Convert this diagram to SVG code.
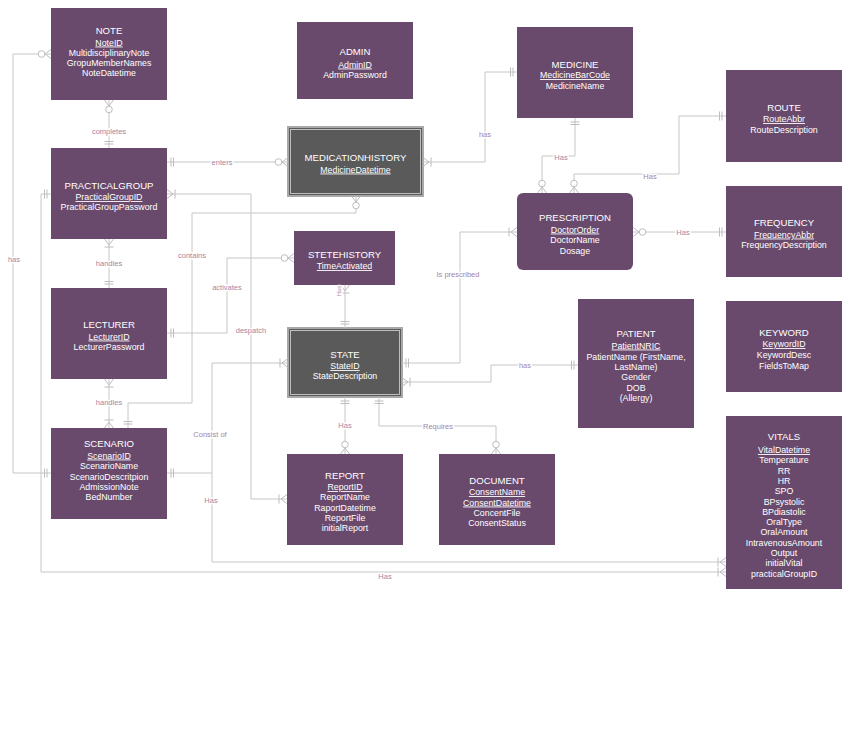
<svg xmlns="http://www.w3.org/2000/svg" width="850" height="742" viewBox="0 0 850 742">
<style>
.bg{fill:#ffffff}
.ent{fill:#6a4a6c}
.dark{fill:#5a5a5a;stroke:#a8a8a8;stroke-width:2}
.darkin{fill:none;stroke:#d8d8d8;stroke-width:0.8}
text{font-family:"Liberation Sans",Arial,sans-serif;fill:#ffffff;text-anchor:middle}
.t{font-size:9.6px}
.a{font-size:8.8px}
.k{text-decoration:underline}
.c{fill:none;stroke:#c6c6c6;stroke-width:1}
.l{font-size:7.5px;fill:#a585a5;stroke:#ffffff;stroke-width:3;paint-order:stroke;stroke-linejoin:round}
.m{fill:none;stroke:#bdbdbd;stroke-width:1}
</style>
<defs>
<marker id="one" viewBox="-15 -10 20 20" markerWidth="20" markerHeight="20" refX="0" refY="0" orient="auto-start-reverse" markerUnits="userSpaceOnUse">
<path class="m" d="M-4,-4.5V4.5M-6.5,-4.5V4.5"/>
</marker>
<marker id="zm" viewBox="-15 -10 20 20" markerWidth="20" markerHeight="20" refX="0" refY="0" orient="auto-start-reverse" markerUnits="userSpaceOnUse">
<path class="m" d="M0,-4.5L-6,0L0,4.5"/>
<circle cx="-9.5" cy="0" r="3.3" fill="#ffffff" stroke="#bdbdbd" stroke-width="1"/>
</marker>
<marker id="om" viewBox="-15 -10 20 20" markerWidth="20" markerHeight="20" refX="0" refY="0" orient="auto-start-reverse" markerUnits="userSpaceOnUse">
<path class="m" d="M0,-4.5L-6,0L0,4.5M-8,-4.5V4.5"/>
</marker>
</defs>
<rect class="bg" x="0" y="0" width="850" height="742"/>

<g id="NOTE"><rect class="ent" x="51" y="8" width="116" height="92"/>
<text class="t" x="109" y="33.5">NOTE</text>
<text class="a"><tspan class="k" x="109" y="45.5">NoteID</tspan><tspan x="109" y="55.5">MultidisciplinaryNote</tspan><tspan x="109" y="65.5">GropuMemberNames</tspan><tspan x="109" y="75.5">NoteDatetime</tspan></text></g>

<g id="ADMIN"><rect class="ent" x="297" y="22" width="116" height="77"/>
<text class="t" x="355" y="55">ADMIN</text>
<text class="a"><tspan class="k" x="355" y="67.5">AdminID</tspan><tspan x="355" y="77.5">AdminPassword</tspan></text></g>

<g id="MEDICINE"><rect class="ent" x="517" y="27" width="116" height="91"/>
<text class="t" x="575" y="67.5">MEDICINE</text>
<text class="a"><tspan class="k" x="575" y="78">MedicineBarCode</tspan><tspan x="575" y="88.5">MedicineName</tspan></text></g>

<g id="MEDICATIONHISTORY"><rect class="dark" x="288" y="127" width="135" height="69"/><rect class="darkin" x="290.5" y="129.5" width="130" height="64"/>
<text class="t" x="355.5" y="161">MEDICATIONHISTORY</text>
<text class="a"><tspan class="k" x="355.5" y="172.5">MedicineDatetime</tspan></text></g>

<g id="ROUTE"><rect class="ent" x="726" y="70" width="116" height="92"/>
<text class="t" x="784" y="111">ROUTE</text>
<text class="a"><tspan class="k" x="784" y="122">RouteAbbr</tspan><tspan x="784" y="132.5">RouteDescription</tspan></text></g>

<g id="PRACTICALGROUP"><rect class="ent" x="51" y="148" width="116" height="91"/>
<text class="t" x="109" y="188.5">PRACTICALGROUP</text>
<text class="a"><tspan class="k" x="109" y="200">PracticalGroupID</tspan><tspan x="109" y="210">PracticalGroupPassword</tspan></text></g>

<g id="PRESCRIPTION"><rect class="ent" x="517" y="193" width="116" height="77" rx="6" ry="6"/>
<text class="t" x="575" y="221">PRESCRIPTION</text>
<text class="a"><tspan class="k" x="575" y="232.5">DoctorOrder</tspan><tspan x="575" y="243">DoctorName</tspan><tspan x="575" y="253.5">Dosage</tspan></text></g>

<g id="FREQUENCY"><rect class="ent" x="726" y="186" width="116" height="91"/>
<text class="t" x="784" y="226">FREQUENCY</text>
<text class="a"><tspan class="k" x="784" y="237.5">FrequencyAbbr</tspan><tspan x="784" y="247.5">FrequencyDescription</tspan></text></g>

<g id="STETEHISTORY"><rect class="ent" x="294" y="231" width="101" height="54"/>
<text class="t" x="344.5" y="257.5">STETEHISTORY</text>
<text class="a"><tspan class="k" x="344.5" y="269">TimeActivated</tspan></text></g>

<g id="LECTURER"><rect class="ent" x="51" y="288" width="116" height="91"/>
<text class="t" x="109" y="328">LECTURER</text>
<text class="a"><tspan class="k" x="109" y="339.5">LecturerID</tspan><tspan x="109" y="349.5">LecturerPassword</tspan></text></g>

<g id="STATE"><rect class="dark" x="288" y="328" width="114" height="69"/><rect class="darkin" x="290.5" y="330.5" width="109" height="64"/>
<text class="t" x="345" y="357.5">STATE</text>
<text class="a"><tspan class="k" x="345" y="369">StateID</tspan><tspan x="345" y="379">StateDescription</tspan></text></g>

<g id="PATIENT"><rect class="ent" x="578" y="299" width="116" height="129"/>
<text class="t" x="636" y="337">PATIENT</text>
<text class="a"><tspan class="k" x="636" y="348.5">PatientNRIC</tspan><tspan x="636" y="359.5">PatientName (FirstName,</tspan><tspan x="636" y="369.5">LastName)</tspan><tspan x="636" y="380">Gender</tspan><tspan x="636" y="390.5">DOB</tspan><tspan x="636" y="401">(Allergy)</tspan></text></g>

<g id="KEYWORD"><rect class="ent" x="726" y="301" width="116" height="91"/>
<text class="t" x="784" y="336">KEYWORD</text>
<text class="a"><tspan class="k" x="784" y="347">KeywordID</tspan><tspan x="784" y="358">KeywordDesc</tspan><tspan x="784" y="368.5">FieldsToMap</tspan></text></g>

<g id="SCENARIO"><rect class="ent" x="51" y="428" width="116" height="91"/>
<text class="t" x="109" y="447">SCENARIO</text>
<text class="a"><tspan class="k" x="109" y="458.5">ScenarioID</tspan><tspan x="109" y="469">ScenarioName</tspan><tspan x="109" y="479.5">ScenarioDescritpion</tspan><tspan x="109" y="490">AdmissionNote</tspan><tspan x="109" y="500">BedNumber</tspan></text></g>

<g id="REPORT"><rect class="ent" x="287" y="454" width="116" height="91"/>
<text class="t" x="345" y="478.5">REPORT</text>
<text class="a"><tspan class="k" x="345" y="490">ReportID</tspan><tspan x="345" y="500">ReportName</tspan><tspan x="345" y="510.5">RaportDatetime</tspan><tspan x="345" y="521">ReportFile</tspan><tspan x="345" y="531">initialReport</tspan></text></g>

<g id="DOCUMENT"><rect class="ent" x="439" y="454" width="116" height="91"/>
<text class="t" x="497" y="483.5">DOCUMENT</text>
<text class="a"><tspan class="k" x="497" y="495">ConsentName</tspan><tspan class="k" x="497" y="505.5">ConsentDatetime</tspan><tspan x="497" y="516">ConcentFile</tspan><tspan x="497" y="526">ConsentStatus</tspan></text></g>

<g id="VITALS"><rect class="ent" x="726" y="416" width="116" height="173"/>
<text class="t" x="784" y="440">VITALS</text>
<text class="a"><tspan class="k" x="784" y="453">VitalDatetime</tspan><tspan x="784" y="463.3">Temperature</tspan><tspan x="784" y="473.6">RR</tspan><tspan x="784" y="483.9">HR</tspan><tspan x="784" y="494.2">SPO</tspan><tspan x="784" y="504.5">BPsystolic</tspan><tspan x="784" y="514.8">BPdiastolic</tspan><tspan x="784" y="525.1">OralType</tspan><tspan x="784" y="535.4">OralAmount</tspan><tspan x="784" y="545.7">IntravenousAmount</tspan><tspan x="784" y="556">Output</tspan><tspan x="784" y="566.3">initialVital</tspan><tspan x="784" y="576.6">practicalGroupID</tspan></text></g>

<g id="connectors">
<path class="c" d="M109,100V148" marker-start="url(#zm)" marker-end="url(#one)"/>
<path class="c" d="M51,54H13V473H51" marker-start="url(#zm)" marker-end="url(#one)"/>
<path class="c" d="M167,162H288" marker-start="url(#one)" marker-end="url(#zm)"/>
<path class="c" d="M423,162H485V72H517" marker-start="url(#om)" marker-end="url(#one)"/>
<path class="c" d="M575,118V156H542V193" marker-start="url(#one)" marker-end="url(#zm)"/>
<path class="c" d="M726,116H679V174H574V193" marker-start="url(#one)" marker-end="url(#zm)"/>
<path class="c" d="M633,232H726" marker-start="url(#zm)" marker-end="url(#one)"/>
<path class="c" d="M517,232H460V363H402" marker-start="url(#om)" marker-end="url(#one)"/>
<path class="c" d="M578,365H491V382H402" marker-start="url(#one)" marker-end="url(#om)"/>
<path class="c" d="M345,328V285" marker-start="url(#one)" marker-end="url(#om)"/>
<path class="c" d="M167,333H227V258H294" marker-start="url(#one)" marker-end="url(#zm)"/>
<path class="c" d="M167,194H251V499H287" marker-start="url(#om)" marker-end="url(#om)"/>
<path class="c" d="M356,196V213H192V403H128V428" marker-start="url(#zm)" marker-end="url(#one)"/>
<path class="c" d="M109,379V428" marker-start="url(#om)" marker-end="url(#om)"/>
<path class="c" d="M109,239V288" marker-start="url(#om)" marker-end="url(#one)"/>
<path class="c" d="M167,473H212V363H288" marker-start="url(#one)" marker-end="url(#om)"/>
<path class="c" d="M212,473V562H726" marker-end="url(#om)"/>
<path class="c" d="M51,194H41V572H726" marker-start="url(#one)" marker-end="url(#om)"/>
<path class="c" d="M345,397V454" marker-start="url(#one)" marker-end="url(#zm)"/>
<path class="c" d="M379,397V426H496V454" marker-start="url(#one)" marker-end="url(#zm)"/>
<text class="l" x="109" y="134">completes</text>
<text class="l" x="14" y="262">has</text>
<text class="l" x="222" y="165">enters</text>
<text class="l" x="485" y="137">has</text>
<text class="l" x="561" y="160">Has</text>
<text class="l" x="650" y="179">Has</text>
<text class="l" x="683" y="235">Has</text>
<text class="l" x="458" y="277">Is prescribed</text>
<text class="l" x="525" y="368">has</text>
<text class="l" x="341" y="291" transform="rotate(-90 341 291)" style="font-size:5.5px">Has</text>
<text class="l" x="227" y="290">activates</text>
<text class="l" x="251" y="333">despatch</text>
<text class="l" x="192" y="258">contains</text>
<text class="l" x="109" y="405">handles</text>
<text class="l" x="109" y="266">handles</text>
<text class="l" x="210" y="437">Consist of</text>
<text class="l" x="211" y="503">Has</text>
<text class="l" x="385" y="579">Has</text>
<text class="l" x="345" y="428">Has</text>
<text class="l" x="438" y="429">Requires</text>
</g>
</svg>
